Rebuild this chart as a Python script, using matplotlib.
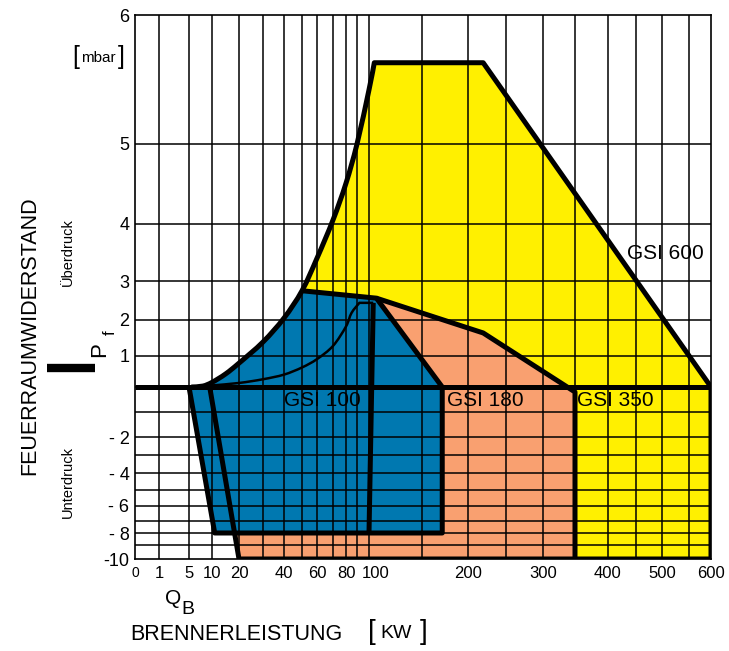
import numpy as np
import matplotlib
matplotlib.use("Agg")
import matplotlib.pyplot as plt
from matplotlib.patches import Polygon, PathPatch
from matplotlib.path import Path
from matplotlib.transforms import ScaledTranslation

plt.rcParams['font.family'] = ['Liberation Sans', 'DejaVu Sans']

W, H = 729, 651

# axis scale breakpoints (value -> pixel of the printed grid)
x_grid = [0, 1, 5, 10, 20, 30, 40, 50, 60, 70, 80, 90, 100, 150, 200, 250, 300, 350, 400, 450, 500, 550, 600]
x_grid_px = [135, 159, 189, 212, 239, 263, 284, 302, 317, 333, 346, 357, 369, 422, 468, 506, 543, 575, 608, 636, 662, 689, 711]
y_grid = [-10, -9, -8, -7, -6, -5, -4, -3, -2, -1, 0, 1, 2, 3, 4, 5, 6]
y_grid_px = [559, 545, 533, 521, 506, 490, 473, 455, 437, 412, 387, 356, 320, 281, 224, 144, 15]

x_ticks = [0, 1, 5, 10, 20, 40, 60, 80, 100, 200, 300, 400, 500, 600]
y_ticks = [-10, -8, -6, -4, -2, 1, 2, 3, 4, 5, 6]
y_ticklabels = ['-10', '- 8', '- 6', '- 4', '- 2', '1', '2', '3', '4', '5', '6']

# field outlines (kW, mbar)
curve_x = [5.5, 8, 10, 15, 20, 30, 40, 50, 60, 70, 80, 90, 100, 105]
curve_y = [0, 0.03, 0.15, 0.42, 0.77, 1.39, 2.05, 2.75, 3.4, 4.05, 4.51, 5.0, 5.42, 5.63]

gsi600_x = [220, 600, 600, 350, 350]
gsi600_y = [5.63, 0, -10, -10, 0]

gsi350_x = [107, 220, 350, 350, 20, 9.5]
gsi350_y = [2.56, 1.64, -0.2, -10, -10, 0]

gsi180_x = [50, 107, 172, 172, 11, 5]
gsi180_y = [2.75, 2.56, 0, -8, -8, 0]

gsi100_x = [100, 104]
gsi100_y = [-8, 2.44]
gsi100_curve_x = [8, 10, 20, 30, 40, 50, 60, 70, 80, 85, 92]
gsi100_curve_y = [0.02, 0.05, 0.13, 0.25, 0.4, 0.63, 0.9, 1.28, 1.82, 2.18, 2.44]
gsi100_end = (104, 2.44)

YELLOW = '#fff000'
SALMON = '#f9a070'
BLUE = '#0078b0'


def piecewise(src, dst):
    src = np.asarray(src, float)
    dst = np.asarray(dst, float)

    def f(v):
        v = np.asarray(v, float)
        out = np.interp(v, src, dst)
        lo_slope = (dst[1] - dst[0]) / (src[1] - src[0])
        hi_slope = (dst[-1] - dst[-2]) / (src[-1] - src[-2])
        out = np.where(v < src[0], dst[0] + (v - src[0]) * lo_slope, out)
        out = np.where(v > src[-1], dst[-1] + (v - src[-1]) * hi_slope, out)
        return out
    return f


y_up = [H - p for p in y_grid_px]
fx, fx_inv = piecewise(x_grid, x_grid_px), piecewise(x_grid_px, x_grid)
fy, fy_inv = piecewise(y_grid, y_up), piecewise(y_up, y_grid)


def smooth_path(xs, ys, tail=()):
    # catmull-rom through the read points, drawn in the chart's own scale
    pts = np.column_stack([fx(xs), fy(ys)])
    n = len(pts)
    verts = [pts[0]]
    codes = [Path.MOVETO]
    for i in range(n - 1):
        p0 = pts[max(i - 1, 0)]
        p1 = pts[i]
        p2 = pts[i + 1]
        p3 = pts[min(i + 2, n - 1)]
        verts += [p1 + (p2 - p0) / 6, p2 - (p3 - p1) / 6, p2]
        codes += [Path.CURVE4] * 3
    verts = np.array(verts)
    data = [tuple(p) for p in np.column_stack([fx_inv(verts[:, 0]), fy_inv(verts[:, 1])])]
    for p in tail:
        data.append(p)
        codes.append(Path.LINETO)
    return Path(data, codes)


fig = plt.figure(figsize=(W / 100, H / 100), dpi=100)
ax = fig.add_axes([135 / W, (H - 559) / H, 576 / W, 544 / H])
ax.set_xscale('function', functions=(fx, fx_inv))
ax.set_yscale('function', functions=(fy, fy_inv))
ax.set_xlim(0, 600)
ax.set_ylim(-10, 6)

# fills
outer = smooth_path(curve_x, curve_y, tail=list(zip(gsi600_x, gsi600_y)))
ax.add_patch(PathPatch(outer, facecolor=YELLOW, edgecolor='none', zorder=1))
ax.add_patch(Polygon(list(zip(gsi350_x, gsi350_y)), closed=True,
                     facecolor=SALMON, edgecolor='none', zorder=1.1))
n_low = sum(1 for v in curve_x if v <= 50)
blue_path = smooth_path(curve_x[:n_low], curve_y[:n_low],
                        tail=list(zip(gsi180_x[1:], gsi180_y[1:])))
ax.add_patch(PathPatch(blue_path, facecolor=BLUE, edgecolor='none', zorder=1.2))

# grid
for v in x_grid[1:-1]:
    ax.axvline(v, color='black', lw=1.1, zorder=2)
for v in y_grid[1:-1]:
    ax.axhline(v, color='black', lw=1.1, zorder=2)

# outlines
lw = 3.6
kw = dict(color='black', lw=lw, zorder=4, solid_joinstyle='round', solid_capstyle='butt')
ax.axhline(0, **kw)
ax.add_patch(PathPatch(smooth_path(curve_x, curve_y, tail=list(zip(gsi600_x[:4], gsi600_y[:4]))),
                       fill=False, edgecolor='black', lw=lw, joinstyle='round', zorder=4))
ax.plot(gsi350_x, gsi350_y, **kw)
ax.plot(gsi180_x, gsi180_y, **kw)
ax.plot(gsi100_x, gsi100_y, **kw)
ax.add_patch(PathPatch(smooth_path(gsi100_curve_x, gsi100_curve_y, tail=[gsi100_end]),
                       fill=False, edgecolor='black', lw=1.8, zorder=4))

# field labels
lab = dict(fontsize=15, va='center', ha='left', zorder=5)
ax.text(40, -0.52, 'GSI 100', **lab)
ax.text(177, -0.52, 'GSI 180', **lab)
ax.text(353, -0.52, 'GSI 350', **lab)
ax.text(434, 3.49, 'GSI 600', **lab)

# x tick labels as text on the axis scale
ax.set_xticks([])
xtr = ax.get_xaxis_transform()
for v in x_ticks:
    shift = 7 if v == 100 else 0
    tr = xtr + ScaledTranslation(shift / 100, -14 / 100, fig.dpi_scale_trans)
    ax.text(v, 0, str(v), transform=tr, ha='center', va='center',
            fontsize=10 if v == 0 else 12, clip_on=False)

ax.set_yticks(y_ticks)
ax.set_yticklabels(y_ticklabels, fontsize=13)
ax.tick_params(length=0, pad=4)
for s in ax.spines.values():
    s.set_linewidth(1.2)
    s.set_zorder(3)


# outer texts (pixel positions)
def ftext(x, y, s, **kw):
    fig.text(x / W, 1 - y / H, s, **kw)


ftext(72, 57, '[', fontsize=18, va='center', ha='left')
ftext(81, 58, 'mbar', fontsize=11, va='center', ha='left')
ftext(118, 57, ']', fontsize=18, va='center', ha='left')

ftext(30, 336, 'FEUERRAUMWIDERSTAND', fontsize=15.5, rotation=90, va='center', ha='center')
ftext(68, 252, 'Überdruck', fontsize=10.5, rotation=90, va='center', ha='center')
ftext(68, 482, 'Unterdruck', fontsize=10.5, rotation=90, va='center', ha='center')
ftext(100, 350, 'P', fontsize=16, rotation=90, va='center', ha='center')
ftext(110, 333, 'f', fontsize=12, rotation=90, va='center', ha='center')
fig.add_artist(plt.Line2D([47 / W, 95 / W], [1 - 368 / H, 1 - 368 / H], color='black', lw=6,
                          solid_capstyle='butt'))

ftext(165, 598, 'Q', fontsize=15, va='center', ha='left')
ftext(181, 609, 'B', fontsize=14, va='center', ha='left')
ftext(130, 634, 'BRENNERLEISTUNG', fontsize=15.5, va='center', ha='left')
ftext(368, 632, '[', fontsize=20, va='center', ha='left')
ftext(380, 634, 'KW', fontsize=14, va='center', ha='left')
ftext(420, 632, ']', fontsize=20, va='center', ha='left')

fig.savefig('out.png', dpi=100)
